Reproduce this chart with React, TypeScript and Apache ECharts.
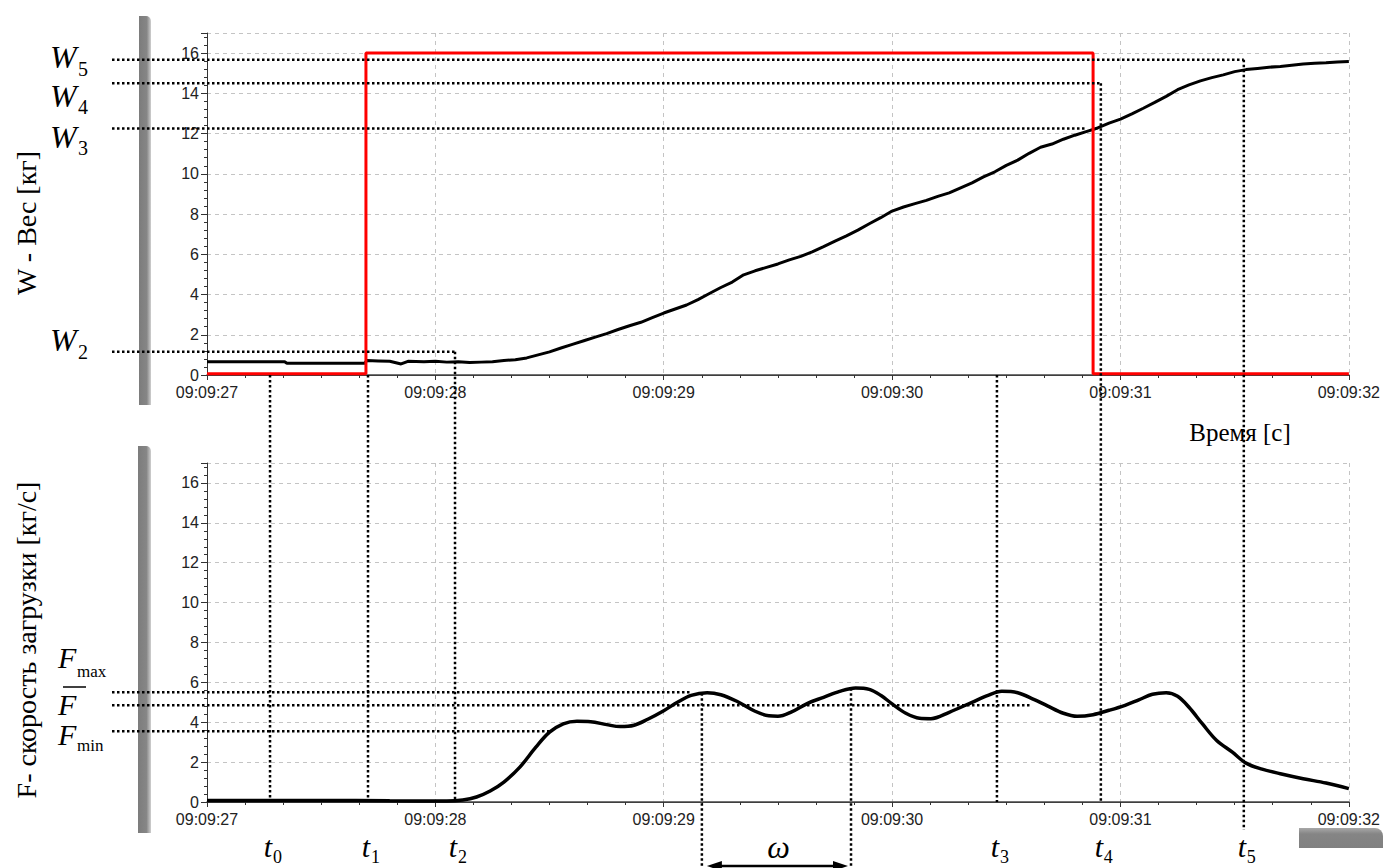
import { useEffect, useRef } from 'react';
import * as echarts from 'echarts';

// Time axis: seconds of minute 09:09
const timeTickLabels = ['09:09:27', '09:09:28', '09:09:29', '09:09:30', '09:09:31', '09:09:32'];
const timeStart = 27;
const timeEnd = 32;

// W – weight trace [kg]
const weightTimes = [
  27.0, 27.34, 27.35, 27.69, 27.7, 27.75, 27.8, 27.85, 27.88, 27.95, 28.0, 28.05, 28.1, 28.15,
  28.2, 28.25, 28.3, 28.35, 28.4, 28.45, 28.5, 28.55, 28.6, 28.65, 28.7, 28.75, 28.8, 28.85,
  28.9, 28.95, 29.0, 29.05, 29.1, 29.15, 29.2, 29.25, 29.3, 29.35, 29.4, 29.45, 29.5, 29.55,
  29.6, 29.65, 29.7, 29.75, 29.8, 29.85, 29.9, 29.95, 30.0, 30.05, 30.1, 30.15, 30.2, 30.25,
  30.3, 30.35, 30.4, 30.45, 30.5, 30.55, 30.6, 30.65, 30.7, 30.75, 30.8, 30.85, 30.9, 30.95,
  31.0, 31.05, 31.1, 31.15, 31.2, 31.25, 31.3, 31.35, 31.4, 31.45, 31.5, 31.55, 31.6, 31.65,
  31.7, 31.75, 31.8, 31.85, 31.9, 31.95, 32.0,
];
const weightValues = [
  0.66, 0.66, 0.58, 0.58, 0.72, 0.7, 0.68, 0.55, 0.68, 0.66, 0.68, 0.64, 0.66, 0.62,
  0.64, 0.66, 0.72, 0.76, 0.85, 1.0, 1.15, 1.34, 1.52, 1.7, 1.88, 2.06, 2.26, 2.45,
  2.62, 2.85, 3.08, 3.28, 3.48, 3.75, 4.05, 4.35, 4.62, 4.98, 5.18, 5.35, 5.52, 5.72,
  5.9, 6.12, 6.38, 6.65, 6.92, 7.2, 7.52, 7.82, 8.15, 8.35, 8.52, 8.68, 8.88, 9.05,
  9.3, 9.55, 9.85, 10.1, 10.42, 10.68, 11.02, 11.32, 11.48, 11.72, 11.92, 12.1, 12.28, 12.52,
  12.72, 12.98, 13.26, 13.55, 13.85, 14.18, 14.42, 14.62, 14.78, 14.92, 15.08, 15.18, 15.24, 15.3,
  15.34, 15.4, 15.46, 15.5, 15.52, 15.56, 15.58,
];

// Valve control signal (red step)
const valveTimes = [27.0, 27.696, 27.696, 30.88, 30.88, 32.0];
const valveValues = [0.06, 0.06, 16, 16, 0.06, 0.06];

// F – loading rate [kg/s]
const rateTimes = [
  27.0, 27.5, 27.8, 28.05, 28.12, 28.18, 28.24, 28.3, 28.37, 28.44, 28.5, 28.56, 28.62, 28.68,
  28.75, 28.81, 28.87, 28.93, 29.0, 29.06, 29.12, 29.19, 29.25, 29.32, 29.4, 29.46, 29.5, 29.56,
  29.63, 29.7, 29.77, 29.84, 29.9, 29.95, 30.0, 30.06, 30.12, 30.17, 30.25, 30.35, 30.42, 30.48,
  30.55, 30.62, 30.68, 30.75, 30.81, 30.88, 30.95, 31.02, 31.08, 31.14, 31.2, 31.25, 31.3, 31.36,
  31.42, 31.49, 31.55, 31.62, 31.7, 31.8, 31.9, 32.0,
];
const rateValues = [
  0.08, 0.08, 0.06, 0.05, 0.1, 0.25, 0.55, 1.0, 1.75, 2.75, 3.5, 3.92, 4.05, 4.03,
  3.88, 3.78, 3.85, 4.15, 4.58, 5.0, 5.35, 5.48, 5.38, 5.05, 4.55, 4.32, 4.3, 4.52,
  4.95, 5.25, 5.55, 5.72, 5.65, 5.35, 4.92, 4.45, 4.2, 4.18, 4.5, 5.0, 5.35, 5.55,
  5.48, 5.15, 4.82, 4.45, 4.3, 4.38, 4.6, 4.85, 5.12, 5.4, 5.48, 5.3, 4.75, 3.9,
  3.1, 2.5, 1.95, 1.65, 1.42, 1.17, 0.95, 0.67,
];

// Reference levels on the weight chart: W5, W4, W3, W2
const weightLevelSubs = ['5', '4', '3', '2'];
const weightLevels = [15.67, 14.5, 12.25, 1.15];
const weightLevelEnds = [31.54, 30.914, 30.853, 28.086];

// Reference levels on the rate chart: Fmax, F mean, Fmin
const rateLevelSubs = ['max', '', 'min'];
const rateLevels = [5.5, 4.85, 3.55];
const rateLevelEnds = [29.115, 30.607, 28.5];

// Event instants t0..t5 and the weight level each marker drops from (-1: from the time axis)
const eventSubs = ['0', '1', '2', '3', '4', '5'];
const eventTimes = [27.276, 27.705, 28.086, 30.459, 30.914, 31.54];
const eventFromLevel = [-1, -1, 3, -1, 1, 0];

// Oscillation period ω between two rate peaks
const periodTimes = [29.167, 29.82];
const periodPeaks = [5.45, 5.7];

const SERIF = '"Liberation Serif", "Times New Roman", serif';
const SANS = '"Liberation Sans", Arial, sans-serif';

export default function App() {
  const ref = useRef<HTMLDivElement>(null);

  useEffect(() => {
    if (!ref.current) return;
    const chart = echarts.init(ref.current, undefined, { renderer: 'svg' });

    const gridColor = '#c4c4c4';
    const axisColor = '#333';
    const labelStyle = { fontSize: 16, fontFamily: SANS, color: '#222' };

    const timeAxis = (gridIndex: number) => ({
      type: 'value',
      gridIndex,
      min: timeStart,
      max: timeEnd,
      interval: 1,
      axisLine: { show: true, onZero: false, lineStyle: { color: axisColor, width: 1 } },
      axisTick: { show: true, length: 5, lineStyle: { color: axisColor } },
      minorTick: { show: true, splitNumber: 6, length: 3, lineStyle: { color: axisColor } },
      axisLabel: {
        ...labelStyle,
        margin: 9,
        formatter: (v: number) => timeTickLabels[Math.round(v - timeStart)] ?? '',
      },
      splitLine: { show: true, lineStyle: { color: gridColor, type: [4, 4] } },
    });

    const borderAxis = (gridIndex: number) => ({
      type: 'value',
      gridIndex,
      position: 'top',
      min: timeStart,
      max: timeEnd,
      axisLine: { show: true, lineStyle: { color: '#444', width: 1.5 } },
      axisTick: { show: false },
      axisLabel: { show: false },
      splitLine: { show: false },
    });

    const valueAxis = (gridIndex: number) => ({
      type: 'value',
      gridIndex,
      min: 0,
      max: 17,
      interval: 2,
      axisLine: { show: true, onZero: false, lineStyle: { color: axisColor, width: 1 } },
      axisTick: { show: true, length: 6, lineStyle: { color: axisColor } },
      minorTick: { show: true, splitNumber: 5, length: 3, lineStyle: { color: axisColor } },
      axisLabel: { ...labelStyle, margin: 8, showMaxLabel: false },
      splitLine: { show: true, lineStyle: { color: gridColor, type: [4, 4] } },
    });

    chart.setOption({
      animation: false,
      backgroundColor: '#fff',
      grid: [
        { left: 207, top: 33, width: 1142, height: 342 },
        { left: 207, top: 463, width: 1142, height: 339 },
      ],
      xAxis: [timeAxis(0), timeAxis(1), borderAxis(0), borderAxis(1)],
      yAxis: [valueAxis(0), valueAxis(1)],
      series: [
        {
          type: 'line',
          name: 'W',
          xAxisIndex: 0,
          yAxisIndex: 0,
          data: weightTimes.map((t, i) => [t, weightValues[i]]),
          showSymbol: false,
          lineStyle: { color: '#000', width: 3 },
          z: 3,
        },
        {
          type: 'line',
          name: 'valve',
          xAxisIndex: 0,
          yAxisIndex: 0,
          data: valveTimes.map((t, i) => [t, valveValues[i]]),
          showSymbol: false,
          lineStyle: { color: '#ff0000', width: 3 },
          z: 4,
        },
        {
          type: 'line',
          name: 'F',
          xAxisIndex: 1,
          yAxisIndex: 1,
          data: rateTimes.map((t, i) => [t, rateValues[i]]),
          showSymbol: false,
          smooth: 0.35,
          lineStyle: { color: '#000', width: 3.5 },
          z: 3,
        },
      ],
    });

    const xPx = (t: number) => chart.convertToPixel({ xAxisIndex: 0 }, t) as unknown as number;
    const yW = (v: number) => chart.convertToPixel({ yAxisIndex: 0 }, v) as unknown as number;
    const yF = (v: number) => chart.convertToPixel({ yAxisIndex: 1 }, v) as unknown as number;

    const dotted = { stroke: '#000', lineWidth: 2.5, lineDash: [2.5, 2.5] };
    const line = (x1: number, y1: number, x2: number, y2: number, style: any = dotted) => ({
      type: 'line',
      silent: true,
      z: 60,
      shape: { x1, y1, x2, y2 },
      style,
    });
    const text = (
      str: string,
      x: number,
      y: number,
      fontSize: number,
      opts: any = {},
    ) => ({
      type: 'text',
      silent: true,
      z: 70,
      x,
      y,
      rotation: opts.rotation ?? 0,
      style: {
        text: str,
        fontSize,
        fontFamily: SERIF,
        fontStyle: opts.italic ? 'italic' : 'normal',
        fill: '#000',
        align: opts.align ?? 'left',
        verticalAlign: 'middle',
      },
    });

    const leftEdge = 112;
    const graphics: any[] = [];

    // gray frame bars
    const barFill = new echarts.graphic.LinearGradient(0, 0, 1, 0, [
      { offset: 0, color: '#7c7c7c' },
      { offset: 0.65, color: '#868686' },
      { offset: 1, color: '#cfcfcf' },
    ]);
    graphics.push({
      type: 'rect', silent: true, z: 1,
      shape: { x: 139, y: 16, width: 12, height: 389, r: [0, 5, 0, 0] },
      style: { fill: barFill },
    });
    graphics.push({
      type: 'rect', silent: true, z: 1,
      shape: { x: 138, y: 446, width: 13, height: 387, r: [0, 5, 0, 0] },
      style: { fill: barFill },
    });
    graphics.push({
      type: 'rect', silent: true, z: 1,
      shape: { x: 1299, y: 828, width: 84, height: 20, r: [0, 8, 0, 0] },
      style: {
        fill: new echarts.graphic.LinearGradient(0, 0, 0, 1, [
          { offset: 0, color: '#a8a8a8' },
          { offset: 0.3, color: '#858585' },
          { offset: 1, color: '#808080' },
        ]),
      },
    });

    // axis titles
    graphics.push(text('W - Вес [кг]', 26, 223, 28, { rotation: Math.PI / 2, align: 'center' }));
    graphics.push(
      text('F- скорость загрузки [кг/с]', 26, 640, 28, { rotation: Math.PI / 2, align: 'center' }),
    );
    graphics.push(text('Время [с]', 1240, 432, 25, { align: 'center' }));

    // W levels
    const wLabelY = [57, 96, 137, 340];
    const wSubY = [69, 107, 148, 352];
    weightLevels.forEach((v, i) => {
      const y = yW(v);
      graphics.push(line(leftEdge, y, xPx(weightLevelEnds[i]), y));
      graphics.push(text('W', 50, wLabelY[i], 32, { italic: true }));
      graphics.push(text(weightLevelSubs[i], 78, wSubY[i], 20));
    });

    // F levels
    const fLabelY = [657, 704, 734];
    const fSubY = [671, 0, 745];
    rateLevels.forEach((v, i) => {
      const y = yF(v);
      graphics.push(line(leftEdge, y, xPx(rateLevelEnds[i]), y));
      graphics.push(text('F', 58, fLabelY[i], 30, { italic: true }));
      if (rateLevelSubs[i]) graphics.push(text(rateLevelSubs[i], 77, fSubY[i], 17));
      else graphics.push(line(63, 687, 86, 687, { stroke: '#000', lineWidth: 1.5 }));
    });

    // event markers t0..t5
    eventTimes.forEach((t, i) => {
      const x = xPx(t);
      const from = eventFromLevel[i] >= 0 ? yW(weightLevels[eventFromLevel[i]]) : yW(0);
      const to = i === 5 ? yF(0) + 28 : yF(0);
      graphics.push(line(x, from, x, to));
      graphics.push(text('t', x - 2, 846, 30, { italic: true, align: 'center' }));
      graphics.push(text(eventSubs[i], x + 3, 857, 18));
    });

    // oscillation period ω
    const px = periodTimes.map(xPx);
    periodTimes.forEach((_, i) => {
      graphics.push(line(px[i], yF(periodPeaks[i]), px[i], 868));
    });
    const ay = 866;
    const a1 = px[0] + 5;
    const a2 = px[1] - 3;
    graphics.push(line(a1 + 6, ay, a2 - 6, ay, { stroke: '#000', lineWidth: 2.5 }));
    graphics.push({
      type: 'polygon', silent: true, z: 70,
      shape: { points: [[a1, ay], [a1 + 15, ay - 5], [a1 + 15, ay + 5]] },
      style: { fill: '#000' },
    });
    graphics.push({
      type: 'polygon', silent: true, z: 70,
      shape: { points: [[a2, ay], [a2 - 15, ay - 5], [a2 - 15, ay + 5]] },
      style: { fill: '#000' },
    });
    graphics.push(text('ω', (px[0] + px[1]) / 2 + 2, 847, 32, { italic: true, align: 'center' }));

    chart.setOption({ graphic: graphics });

    return () => chart.dispose();
  }, []);

  return (
    <div
      ref={ref}
      style={{ position: 'absolute', left: 0, top: 0, width: 1383, height: 868, background: '#fff' }}
    />
  );
}
